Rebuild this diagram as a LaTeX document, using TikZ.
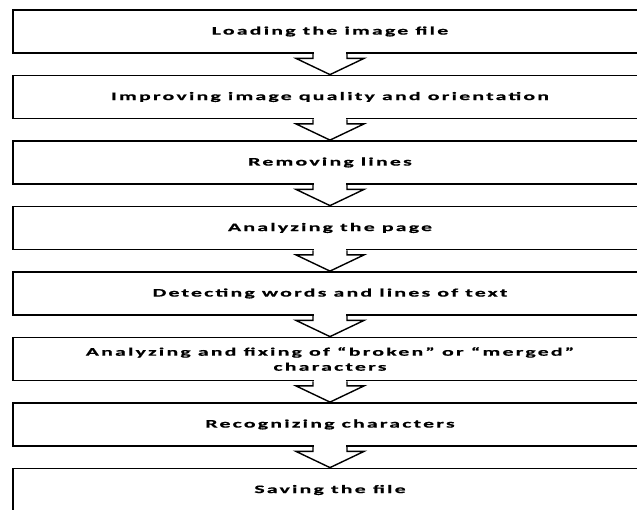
\documentclass[tikz,border=0pt]{standalone}
\usepackage{fontspec}
\newfontfamily\stagefont[FakeStretch=1.9,LetterSpace=19,FakeBold=0.6]{Carlito}
\usetikzlibrary{calc}

\tikzset{
  stage/.style={draw,line width=1.8pt,minimum width=634pt,minimum height=43pt,
    inner sep=0pt,align=center,font=\stagefont\bfseries\fontsize{11.5}{15}\selectfont},
  flow/.style={line width=1.4pt,line join=miter}
}

\begin{document}
\begin{tikzpicture}[x=1pt,y=1pt]
\useasboundingbox (0,0) rectangle (637,-509);

\node[stage] (load) at (330,-31.5) {Loading the image file};
\node[stage] (improve) at (330,-97) {Improving image quality and orientation};
\node[stage] (lines) at (330,-162.5) {Removing lines};
\node[stage] (page) at (330,-228) {Analyzing the page};
\node[stage] (words) at (330,-293.5) {Detecting words and lines of text};
\node[stage] (fix) at (330,-359) {Analyzing and fixing of “broken” or “merged”\\characters};
\node[stage] (recog) at (330,-424.5) {Recognizing characters};
\node[stage] (save) at (330,-490) {Saving the file};

% block arrows between the stages
\foreach \a/\b in {load/improve,improve/lines,lines/page,page/words,words/fix,fix/recog,recog/save}{
  \fill[white] ($(\a.south)+(-16.3,1.5)$) rectangle ($(\a.south)+(16.3,-4.5)$);
  \draw[flow] ($(\a.south)+(-17,0)$) -- ++(0,-4.5) -- ++(-17,0) -- (\b.north)
    -- ($(\a.south)+(34,-4.5)$) -- ++(-17,0) -- ++(0,4.5);
}

\end{tikzpicture}
\end{document}
